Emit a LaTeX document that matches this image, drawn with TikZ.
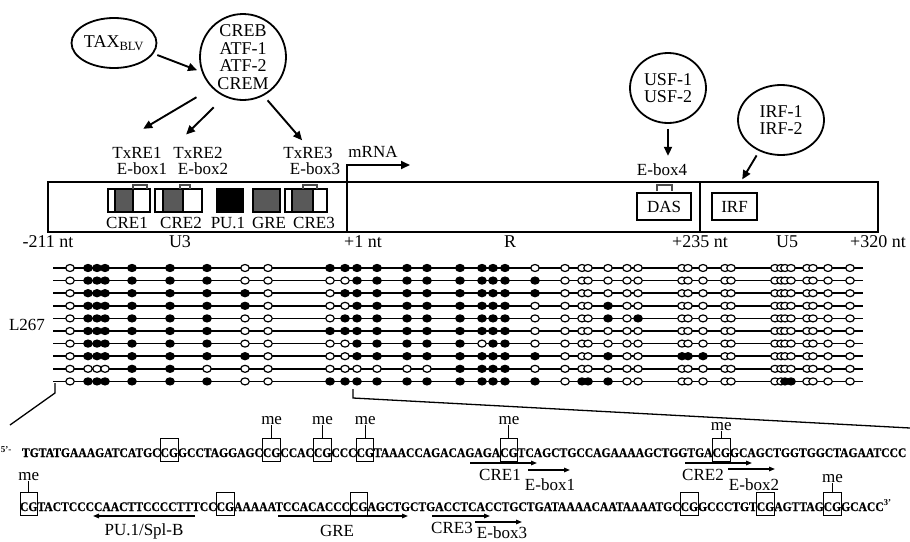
\documentclass[tikz,border=0pt]{standalone}
\usepackage{fontspec}
\setmainfont{Liberation Serif}
\newfontfamily\seqfont[FakeStretch=0.88, FakeBold=0.6]{Liberation Serif}
\usepackage{tikz}
\usetikzlibrary{arrows.meta, positioning, shapes.geometric}

\begin{document}
\begin{tikzpicture}[
  x=1pt, y=-1pt,
  lbl/.style={font=\fontsize{17}{18}\selectfont, inner sep=0pt},
  factor/.style={draw, ellipse, line width=1.8pt, align=center, inner sep=0pt, font=\fontsize{18}{17.5}\selectfont},
  arrow/.style={-{Triangle[length=9pt, width=8pt]}, line width=1.9pt},
  annot/.style={-{Triangle[length=6pt, width=4.5pt]}, line width=1.4pt},
  region/.style={draw, line width=1.5pt},
  ebox/.style={line width=1.6pt, black!70},
  site/.style={ellipse, draw, line width=1.2pt, minimum width=8.5pt, minimum height=7pt, inner sep=0pt},
  seq/.style={anchor=base west, inner sep=0pt, outer sep=0pt, font=\seqfont\fontsize{13.2}{13}\selectfont\bfseries},
  cg/.style={seq, draw, line width=0.9pt, text height=19pt, text depth=4.5pt},
  me/.style={lbl}
]
\useasboundingbox (0,0) rectangle (910,541);

% Factors
\node[factor, minimum width=78pt, minimum height=50pt] (tax) at (114,43) {TAX\textsubscript{BLV}};
\node[factor, circle, minimum size=86pt] (creb) at (243,57) {CREB\\ATF-1\\ATF-2\\CREM};
\node[factor, minimum width=76pt, minimum height=70pt] (usf) at (668,88) {USF-1\\USF-2};
\node[factor, minimum width=86pt, minimum height=70pt] (irf) at (781,120) {IRF-1\\IRF-2};

% Binding sites above the LTR
\node[lbl] (txre1) at (137,153) {TxRE1};
\node[lbl] (ebox1) at (142,169) {E-box1};
\node[lbl] (txre2) at (198,153) {TxRE2};
\node[lbl] (ebox2) at (203,169) {E-box2};
\node[lbl] (txre3) at (308,153) {TxRE3};
\node[lbl] (ebox3) at (315,169) {E-box3};
\node[lbl] (mrna) at (373,152) {mRNA};
\node[lbl] (ebox4) at (662,170) {E-box4};

\draw[arrow, shorten <=4pt, shorten >=5pt] (tax.-15) -- (creb.200);
\draw[arrow, shorten <=18pt, shorten >=36pt] (creb.225) -- (txre1.north west);
\draw[arrow, shorten <=15pt, shorten >=18pt] (creb.245) -- (txre2.north west);
\draw[arrow, shorten <=6pt, shorten >=9pt] (creb.298) -- (txre3.north);
\draw[arrow, shorten <=5pt, shorten >=8pt] (usf.south) -- (usf.south |- ebox4.north);

% LTR: U3 - R - U5
\draw[region] (48,182) rectangle (878,232);
\draw[region] (700,182) -- (700,232);
\draw[arrow] (347,232) -- (347,165) -- (410,165);

% CRE elements with E-box brackets
\foreach \a/\b/\c/\d/\e/\f in {108/115/133/150/133/147, 155/163/183/202/180/190, 285/292/313/327/303/317} {
  \draw[region, fill=white] (\a,189) rectangle (\b,212);
  \draw[region, fill=black!65] (\b,189) rectangle (\c,212);
  \draw[region, fill=white] (\c,189) rectangle (\d,212);
  \draw[ebox] (\e,189) -- (\e,185) -- (\f,185) -- (\f,189);
}
\draw[region, fill=black] (217,189) rectangle (243,212);
\draw[region, fill=black!65] (253,189) rectangle (280,212);

\node[lbl] (cre1) at (127,223) {CRE1};
\node[lbl] (cre2) at (181,223) {CRE2};
\node[lbl] (pu1) at (228,223) {PU.1};
\node[lbl] (gre) at (269,223) {GRE};
\node[lbl] (cre3) at (314,223) {CRE3};

\node[region, lbl, minimum width=54pt, minimum height=27pt] (das) at (664,206.5) {DAS};
\node[region, lbl, minimum width=45pt, minimum height=27pt] (irfbox) at (734.5,206.5) {IRF};
\draw[ebox] (657,191) -- (657,185) -- (672,185) -- (672,191);
\draw[arrow, shorten <=5pt, shorten >=15pt] (irf.235) -- (irfbox.north);

% Positions
\node[lbl, font=\fontsize{18}{18}\selectfont] (p211) at (48,242) {-211 nt};
\node[lbl, font=\fontsize{18}{18}\selectfont] (u3) at (180,242) {U3};
\node[lbl, font=\fontsize{18}{18}\selectfont] (p1) at (363,242) {+1 nt};
\node[lbl, font=\fontsize{18}{18}\selectfont] (r) at (510,242) {R};
\node[lbl, font=\fontsize{18}{18}\selectfont] (p235) at (700,242) {+235 nt};
\node[lbl, font=\fontsize{18}{18}\selectfont] (u5) at (787,242) {U5};
\node[lbl, font=\fontsize{18}{18}\selectfont] (p320) at (878,242) {+320 nt};

% Methylation of clone L267 (filled = methylated CpG)
\node[lbl] (l267) at (27,325) {L267};
\def\cpgx{70,88,97,105,132,170,207,245,268,330,345,357,377,407,427,460,482,493,505,535,565,582,588,608,627,638,682,688,703,725,731,775,781,785,791,807,813,828,850}
\foreach \row [count=\r] in {
  {0,1,1,1,1,1,1,0,0,1,1,1,1,1,1,1,1,1,1,0,0,0,0,0,0,0,0,0,0,0,0,0,0,0,0,0,0,0,0},
  {0,1,1,1,1,1,1,0,0,0,0,1,1,1,1,1,1,1,1,1,0,0,0,0,0,0,0,0,0,0,0,0,0,0,0,0,0,0,0},
  {0,1,1,1,1,1,1,1,0,0,1,1,1,1,1,1,1,1,1,1,0,0,0,0,0,0,0,0,0,0,0,0,0,0,0,0,0,0,0},
  {0,1,1,1,1,1,1,1,0,0,0,1,1,1,1,1,1,1,1,0,0,0,0,1,0,0,0,0,0,0,0,0,0,0,0,0,0,0,0},
  {0,1,1,1,1,1,1,0,0,0,1,1,1,1,1,1,1,1,1,0,0,0,0,1,0,1,0,0,0,0,0,0,0,0,0,0,0,0,0},
  {0,1,1,1,1,1,1,0,0,1,1,1,1,1,1,1,1,1,1,0,0,0,0,0,0,0,0,0,0,0,0,0,0,0,0,0,0,0,0},
  {0,1,1,1,1,1,1,0,0,0,0,1,1,1,1,1,0,1,1,0,0,0,0,0,0,0,0,0,0,0,0,0,0,0,0,0,0,0,0},
  {0,1,1,1,1,1,1,1,0,0,0,1,1,1,1,1,1,1,1,1,0,0,0,1,0,0,1,1,1,0,0,0,0,0,0,0,0,0,0},
  {0,0,0,0,1,1,0,0,0,0,0,0,0,0,0,1,1,1,1,0,0,0,0,0,0,0,0,0,0,0,0,0,0,0,0,0,0,0,0},
  {0,1,1,1,1,1,1,0,0,1,1,1,1,1,1,1,1,1,1,1,0,1,1,1,0,0,0,0,0,0,0,0,0,1,1,0,0,0,0}} {
  \pgfmathsetmacro\ry{268+12.6*(\r-1)}
  \draw[line width=1.7pt] (53,\ry) -- (863,\ry);
  \foreach \v [count=\k] in \row {
    \pgfmathsetmacro\sx{{\cpgx}[\k-1]}
    \ifnum\v=1 \def\fc{black}\else\def\fc{white}\fi
    \node[site, fill=\fc] (s\r-\k) at (\sx,\ry) {};
  }
}

% Zoom into the sequence
\draw[line width=1.3pt] (55,383) -- (55,393) -- (10,425);
\draw[line width=1.3pt] (353,389) -- (353,398) -- (910,428);

% Sequence, line 1
\node[seq, font=\fontsize{9}{9}\selectfont\bfseries] (p5) at (1,452) {5'-};
\node[seq] (a1) at (22,457) {TGTATGAAAGATCATGC};
\node[cg] (a2) at (a1.base east) {CG};
\node[seq] (a3) at (a2.base east) {GCCTAGGAGC};
\node[cg] (a4) at (a3.base east) {CG};
\node[seq] (a5) at (a4.base east) {CCAC};
\node[cg] (a6) at (a5.base east) {CG};
\node[seq] (a7) at (a6.base east) {CCC};
\node[cg] (a8) at (a7.base east) {CG};
\node[seq] (a9) at (a8.base east) {TAAACCAGACAGAGA};
\node[cg] (a10) at (a9.base east) {CG};
\node[seq] (a11) at (a10.base east) {TCAGCTGCCAGAAAAGCTGGTGA};
\node[cg] (a12) at (a11.base east) {CG};
\node[seq] (a13) at (a12.base east) {GCAGCTGGTGGCTAGAATCCC};

\node[me, above=13pt of a4] (me1) {me};
\node[me, above=13pt of a6] (me2) {me};
\node[me, above=13pt of a8] (me3) {me};
\node[me, above=13pt of a10] (me4) {me};
\node[me, above=7pt of a12] (me5) {me};
\foreach \b/\m in {a4/me1, a6/me2, a8/me3, a10/me4, a12/me5}
  \draw[line width=1pt] (\b) -- (\m);

\draw[annot] (470,463) -- (537,463);
\node[lbl] (cre1s) at (500,475) {CRE1};
\draw[annot] (528,470) -- (570,470);
\node[lbl] (ebox1s) at (550,485) {E-box1};
\draw[annot] (685,463) -- (752,463);
\node[lbl] (cre2s) at (703,475) {CRE2};
\draw[annot] (728,469) -- (775,469);
\node[lbl] (ebox2s) at (754,485) {E-box2};

% Sequence, line 2
\node[cg] (b1) at (20,511) {CG};
\node[seq] (b2) at (b1.base east) {TACTCCCCAACTTCCCCTTTCC};
\node[cg] (b3) at (b2.base east) {CG};
\node[seq] (b4) at (b3.base east) {AAAAATCCACACCC};
\node[cg] (b5) at (b4.base east) {CG};
\node[seq] (b6) at (b5.base east) {AGCTGCTGACCTCACCTGCTGATAAAACAATAAAATGC};
\node[cg] (b7) at (b6.base east) {CG};
\node[seq] (b8) at (b7.base east) {GCCCTGT};
\node[cg] (b9) at (b8.base east) {CG};
\node[seq] (b10) at (b9.base east) {AGTTAG};
\node[cg] (b11) at (b10.base east) {CG};
\node[seq] (b12) at (b11.base east) {GCACC};
\node[seq, font=\fontsize{9}{9}\selectfont\bfseries] (p3) at ([yshift=6pt]b12.base east) {3'};

\node[me, above=11pt of b1] (me6) {me};
\node[me, above=9pt of b11] (me7) {me};
\draw[line width=1pt] (b1) -- (me6);
\draw[line width=1pt] (b11) -- (me7);

\draw[annot] (195,516) -- (93,516);
\node[lbl] (pu1s) at (144,531) {PU.1/Spl-B};
\draw[annot] (278,516) -- (408,516);
\node[lbl] (gres) at (337,531) {GRE};
\draw[annot] (432,516) -- (490,516);
\node[lbl] (cre3s) at (452,528) {CRE3};
\draw[annot] (475,522) -- (522,522);
\node[lbl] (ebox3s) at (502,533) {E-box3};

\end{tikzpicture}
\end{document}
